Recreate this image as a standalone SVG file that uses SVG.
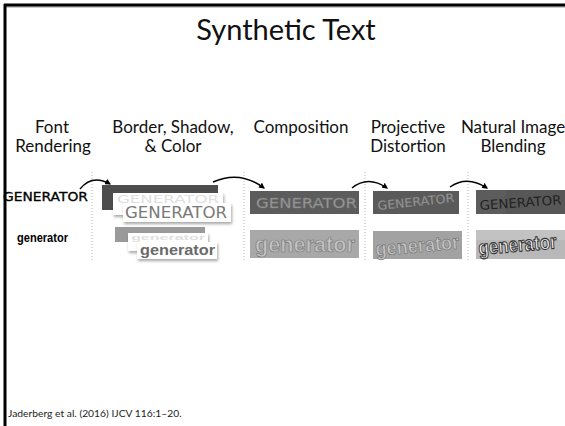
<svg xmlns="http://www.w3.org/2000/svg" width="565" height="426" viewBox="0 0 565 426">
<defs>
<style>
.lbl{font-family:Lato,"Open Sans","Liberation Sans",sans-serif;font-size:17px;fill:#111;text-anchor:middle}
.tech{font-family:"DejaVu Sans","Liberation Sans",sans-serif}
.bold{font-family:"Liberation Sans",Arial,sans-serif;font-weight:bold}
.div{stroke:#b5b5b5;stroke-width:1;stroke-dasharray:1,2;fill:none}
.arr{stroke:#000;stroke-width:1.4;fill:none;marker-end:url(#ah)}
</style>
<marker id="ah" viewBox="0 0 10 10" refX="8" refY="5" markerWidth="6" markerHeight="6" orient="auto" markerUnits="userSpaceOnUse">
<path d="M0,0 L10,5 L0,10 z" fill="#000"/>
</marker>
<filter id="sh" x="-10%" y="-30%" width="130%" height="180%"><feDropShadow dx="1" dy="2" stdDeviation="1.5" flood-color="#000" flood-opacity="0.35"/></filter>
</defs>
<rect width="565" height="426" fill="#fff"/>
<g id="frame">
<line x1="4" y1="7" x2="565" y2="7" stroke="#999" stroke-width="1"/>
<line x1="4" y1="5" x2="565" y2="5" stroke="#000" stroke-width="3"/>
<line x1="5" y1="4" x2="5" y2="426" stroke="#000" stroke-width="3"/>
</g>
<g id="title"><text x="286" y="40" font-family="Lato,'Open Sans','Liberation Sans',sans-serif" font-size="29" text-anchor="middle" fill="#111">Synthetic Text</text></g>
<g id="labels">
<text class="lbl" x="52" y="133">Font</text>
<text class="lbl" x="53" y="152">Rendering</text>
<text class="lbl" x="173" y="133">Border, Shadow,</text>
<text class="lbl" x="173" y="152">&amp; Color</text>
<text class="lbl" x="301" y="133">Composition</text>
<text class="lbl" x="408" y="133">Projective</text>
<text class="lbl" x="408" y="152">Distortion</text>
<text class="lbl" x="513" y="133">Natural Image</text>
<text class="lbl" x="513" y="152">Blending</text>
</g>
<g id="dividers">
<line class="div" x1="92" y1="172" x2="92" y2="262"/>
<line class="div" x1="244" y1="172" x2="244" y2="262"/>
<line class="div" x1="365" y1="172" x2="365" y2="262"/>
<line class="div" x1="468" y1="172" x2="468" y2="262"/>
</g>
<g id="col-font">
<text class="tech" x="3" y="201" font-size="11.5" fill="#000" stroke="#000" stroke-width="0.3" textLength="85" lengthAdjust="spacingAndGlyphs">GENERATOR</text>
<text class="bold" x="17" y="242" font-size="12" fill="#000" textLength="51" lengthAdjust="spacingAndGlyphs">generator</text>
</g>
<g id="col-border">
<rect x="102" y="185" width="116" height="25" fill="#4d4d4d"/>
<rect x="113" y="193" width="110" height="22" fill="#fff" filter="url(#sh)"/>
<text class="tech" x="117" y="203" font-size="10" fill="#e0e0e0" textLength="102" lengthAdjust="spacingAndGlyphs">GENERATOR</text>
<rect x="123" y="203" width="108" height="19" fill="#fff" filter="url(#sh)"/>
<text class="tech" x="125" y="218" font-size="15" fill="#7a7a7a" textLength="102" lengthAdjust="spacingAndGlyphs">GENERATOR</text>
<rect x="115" y="227" width="90" height="15" fill="#9a9a9a"/>
<rect x="128" y="233" width="80" height="18" fill="#fff" filter="url(#sh)"/>
<text class="bold" x="131" y="239.5" font-size="8" fill="#e0e0e0" textLength="74" lengthAdjust="spacingAndGlyphs">generator</text>
<rect x="137" y="242" width="80" height="17" fill="#fff" filter="url(#sh)"/>
<text class="bold" x="140" y="255" font-size="15" fill="#6a6a6a" textLength="75" lengthAdjust="spacingAndGlyphs">generator</text>
</g>
<g id="col-composition">
<rect x="250" y="191" width="109" height="23" fill="#5c5c5c"/>
<text class="tech" x="256" y="208" font-size="14" fill="#9c9c9c" stroke="#777" stroke-width="0.4" textLength="101" lengthAdjust="spacingAndGlyphs">GENERATOR</text>
<rect x="250" y="230" width="109" height="28" fill="#a8a8a8"/>
<text class="bold" x="255" y="252" font-size="22" fill="#c4c4c4" stroke="#7a7a7a" stroke-width="0.7" textLength="100" lengthAdjust="spacingAndGlyphs">generator</text>
</g>
<g id="col-projective">
<rect x="373" y="191" width="86" height="23" fill="#5a5a5a"/>
<text class="tech" x="0" y="0" font-size="12" fill="#9c9c9c" stroke="#777" stroke-width="0.3" textLength="77" lengthAdjust="spacingAndGlyphs" transform="translate(378,210) rotate(-6)">GENERATOR</text>
<rect x="373" y="231" width="89" height="28" fill="#a2a2a2"/>
<text class="bold" x="0" y="0" font-size="20" fill="#c6c6c6" stroke="#777" stroke-width="0.7" textLength="84" lengthAdjust="spacingAndGlyphs" transform="translate(376,256) rotate(-5)">generator</text>
</g>
<g id="col-blending">
<rect x="476" y="190" width="89" height="24" fill="#575757"/>
<rect x="476" y="190" width="30" height="24" fill="#5f5f5f" opacity="0.6"/>
<text class="tech" x="0" y="0" font-size="13" fill="#222" textLength="82" lengthAdjust="spacingAndGlyphs" transform="translate(480,210) rotate(-4)">GENERATOR</text>
<rect x="476" y="230" width="89" height="29" fill="#b8b8b8"/>
<rect x="476" y="230" width="89" height="10" fill="#c6c6c6" opacity="0.7"/>
<text class="bold" x="0" y="0" font-size="17" fill="#f2f2f2" stroke="#333" stroke-width="0.9" transform="translate(479,255) rotate(-5) scale(1,1.2)">generator</text>
</g>
<g id="connectors">
<path class="arr" d="M80,189 Q92,174 110,184"/>
<path class="arr" d="M213,182 Q240,170 264,188"/>
<path class="arr" d="M352,188 Q368,175 387,188"/>
<path class="arr" d="M450,187 Q467,175 487,188"/>
</g>
<g id="citation"><text x="8" y="417" font-family="Lato,'Open Sans','Liberation Sans',sans-serif" font-size="10.3" fill="#222">Jaderberg et al. (2016) IJCV 116:1–20.</text></g>
</svg>
